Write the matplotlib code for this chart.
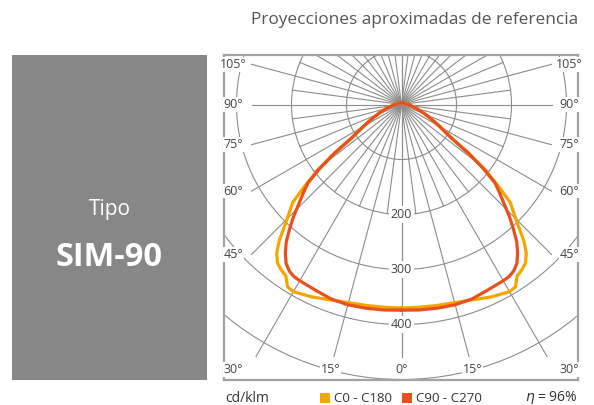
import numpy as np
import matplotlib
matplotlib.use("Agg")
import matplotlib.pyplot as plt
from matplotlib.patches import Rectangle, Circle

# Luminous intensity distribution (cd/klm) vs. angle from nadir (degrees)
angles = [0, 5, 10, 15, 20, 25, 30, 32, 34, 36, 38, 40, 42, 44, 46, 48, 50,
          52, 54, 56, 58, 60, 65, 70, 75, 80, 85, 90, 95, 105, 120, 135, 150,
          165, 180]
c0_c180 = [370, 370, 371, 373, 378, 386, 393, 391, 376, 372, 366, 353, 332,
           305, 284, 266, 228, 192, 152, 112, 95, 82, 58, 41, 29, 21, 15, 12,
           9, 6, 5, 4, 4, 3, 3]
c90_c270 = [374, 375, 376, 377, 376, 372, 370, 369, 365, 357, 343, 326, 304,
            282, 259, 240, 222, 188, 150, 110, 92, 80, 56, 40, 28, 20, 15, 12,
            9, 6, 5, 4, 4, 3, 3]

ring_values = [100, 200, 300, 400, 500]
ring_labels = ["200", "300", "400"]
angle_labels_side = [45, 60, 75, 90, 105]
angle_labels_bottom = [0, 15]
angle_label_corner = 30

series_names = ["C0 - C180", "C90 - C270"]
series_colors = ["#F6A500", "#E8501D"]
efficiency = "96%"

W, H = 594, 405
fig = plt.figure(figsize=(W / 100, H / 100), dpi=100)
plt.rcParams["font.family"] = ["Open Sans", "DejaVu Sans"]

def fx(px):
    return px / W

def fy(py):
    return 1 - py / H

text_col = "#444444"

# Title
fig.text(fx(578), fy(20), "Proyecciones aproximadas de referencia", ha="right",
         va="center", fontsize=12.4, color="#555555")

# Grey type panel
fig.patches.append(Rectangle((fx(12), fy(380)), fx(207) - fx(12), fy(55) - fy(380),
                             transform=fig.transFigure, facecolor="#878787",
                             edgecolor="none"))
fig.text(fx(110), fy(209), "Tipo", ha="center", va="center", fontsize=15,
         color="white")
fig.text(fx(109), fy(258), "SIM-90", ha="center", va="center", fontsize=23.5,
         color="white", fontweight="bold")

# Polar diagram drawn on a cartesian axes (nadir pointing down)
ax_l, ax_r, ax_t, ax_b = 224, 578, 55, 380
ax = fig.add_axes([fx(ax_l), fy(ax_b), fx(ax_r) - fx(ax_l), fy(ax_t) - fy(ax_b)])
cx_px, cy_px = 401.5, 104.5
scale = 0.55  # px per cd/klm
xmin = -(cx_px - ax_l) / scale
xmax = (ax_r - cx_px) / scale
ymax = (cy_px - ax_t) / scale
ymin = -(ax_b - cy_px) / scale
ax.set_xlim(xmin, xmax)
ax.set_ylim(ymin, ymax)
ax.set_xticks([])
ax.set_yticks([])
for s in ax.spines.values():
    s.set_color("#a3a3a3")
    s.set_linewidth(1.6)

grid_col = "#8c8c8c"
grid_lw = 0.8

# Rings
for rv in ring_values:
    ax.add_patch(Circle((0, 0), rv, fill=False, edgecolor=grid_col,
                        linewidth=grid_lw, zorder=1))

# Where labelled rays stop and where their labels sit
side_ray_x = 150 / scale          # side rays end at this horizontal distance
side_label_x = 168 / scale        # side labels sit here
bottom_ray_y = -252 / scale       # bottom rays end at this depth
bottom_label_y = -265 / scale     # bottom labels sit here

def ray_length(a):
    t = np.radians(a)
    s, c = np.sin(t), np.cos(t)
    if a in angle_labels_side:
        return side_ray_x / s
    if a in angle_labels_bottom or a == angle_label_corner:
        return -bottom_ray_y / c
    return 2000.0

for side in (1, -1):
    for a in range(0, 181, 15):
        r = ray_length(a)
        t = np.radians(a)
        ax.plot([0, side * r * np.sin(t)], [0, -r * np.cos(t)], color=grid_col,
                lw=grid_lw, zorder=1)
    for a in np.arange(7.5, 180, 15):
        t = np.radians(a)
        ax.plot([0, side * 200 * np.sin(t)], [0, -200 * np.cos(t)],
                color=grid_col, lw=grid_lw, zorder=1)

# Intensity curves (left half mirrored)
th = np.radians(angles)
for vals, col in zip([c0_c180, c90_c270], series_colors):
    v = np.array(vals, dtype=float)
    xr = v * np.sin(th)
    yr = -v * np.cos(th)
    xs = np.concatenate([xr, -xr[::-1]])
    ys = np.concatenate([yr, yr[::-1]])
    ax.plot(xs, ys, color=col, lw=2.3, solid_joinstyle="round", zorder=3)

# Ring value labels along the nadir axis
for lab in ring_labels:
    ax.text(0, -float(lab), lab, ha="center", va="center", fontsize=9,
            color=text_col, bbox=dict(facecolor="white", edgecolor="none",
                                      pad=1.5), zorder=4)

def angle_text(x, y, a):
    ax.text(x, y, f"{a}°", ha="center", va="center", fontsize=9,
            color=text_col, bbox=dict(facecolor="white", edgecolor="none",
                                      pad=0.6), zorder=4)

for a in angle_labels_side:
    y = -side_ray_x / np.tan(np.radians(a)) if a != 90 else 0.0
    for side in (1, -1):
        angle_text(side * side_label_x, y, a)

for a in angle_labels_bottom:
    x = -bottom_label_y * np.tan(np.radians(a))
    for side in ((1,) if a == 0 else (1, -1)):
        angle_text(side * x, bottom_label_y, a)

for side in (1, -1):
    angle_text(side * side_label_x, bottom_label_y, angle_label_corner)

# Legend row
ly = fy(398)
fig.text(fx(225), ly, "cd/klm", ha="left", va="center", fontsize=10,
         color="#333333")
for x0, name, col in zip([320, 402], series_names, series_colors):
    fig.patches.append(Rectangle((fx(x0), fy(403)), fx(10.5), fy(392.5) - fy(403),
                                 transform=fig.transFigure, facecolor=col,
                                 edgecolor="none"))
    fig.text(fx(x0 + 13.5), ly, name, ha="left", va="center", fontsize=9.5,
             color="#333333")
fig.text(fx(578), ly, r"$\eta$ = " + efficiency, ha="right", va="center",
         fontsize=10, color="#333333")

fig.savefig("out.png", dpi=100)
